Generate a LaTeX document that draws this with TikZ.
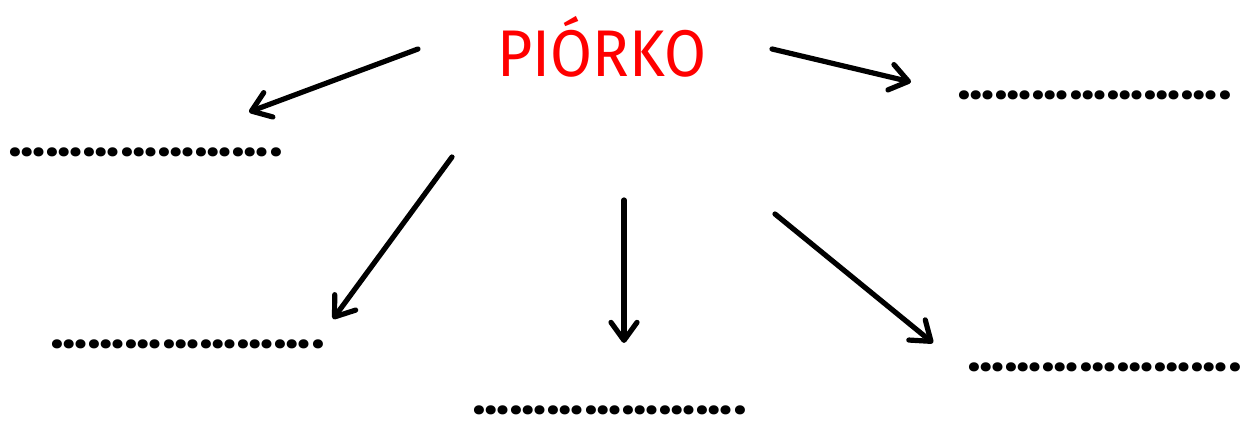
\documentclass[tikz,border=0pt]{standalone}
\usepackage{fontspec}
\setmainfont{Fira Sans}
\newfontfamily\dotfont{Poppins}
\usetikzlibrary{arrows.meta}
\definecolor{titlered}{RGB}{255,0,0}
\tikzset{
  titletext/.style={text=titlered, inner sep=0pt, anchor=base, xscale=0.92, font=\fontsize{33}{36}\selectfont},
  blank/.style={inner sep=0pt, anchor=west, font=\dotfont\bfseries\fontsize{24.5}{26}\selectfont},
  ptr/.style={line width=2.6pt, line cap=round, line join=round,
    -{Straight Barb[length=9pt,width=13pt,line cap=round,line join=round]}},
}
\begin{document}
\begin{tikzpicture}[x=0.5pt,y=-0.5pt]
\useasboundingbox (0,0) rectangle (1244,421);
\node[titletext] (title) at (602,77) {PIÓRKO};
\node[blank] (b1) at (8,152) {………………….};
\node[blank] (b2) at (957,95) {………………….};
\node[blank] (b3) at (50,344) {………………….};
\node[blank] (b4) at (472,410) {………………….};
\node[blank] (b5) at (967,367) {………………….};
\coordinate (s1) at (418,49);  \coordinate (e1) at (249,112);
\coordinate (s2) at (772,49);  \coordinate (e2) at (911,82);
\coordinate (s3) at (452,157); \coordinate (e3) at (333,319);
\coordinate (s4) at (624,200); \coordinate (e4) at (624,343);
\coordinate (s5) at (775,214); \coordinate (e5) at (933,343);
\draw[ptr] (s1) -- (e1);
\draw[ptr] (s2) -- (e2);
\draw[ptr] (s3) -- (e3);
\draw[ptr] (s4) -- (e4);
\draw[ptr] (s5) -- (e5);
\end{tikzpicture}
\end{document}
